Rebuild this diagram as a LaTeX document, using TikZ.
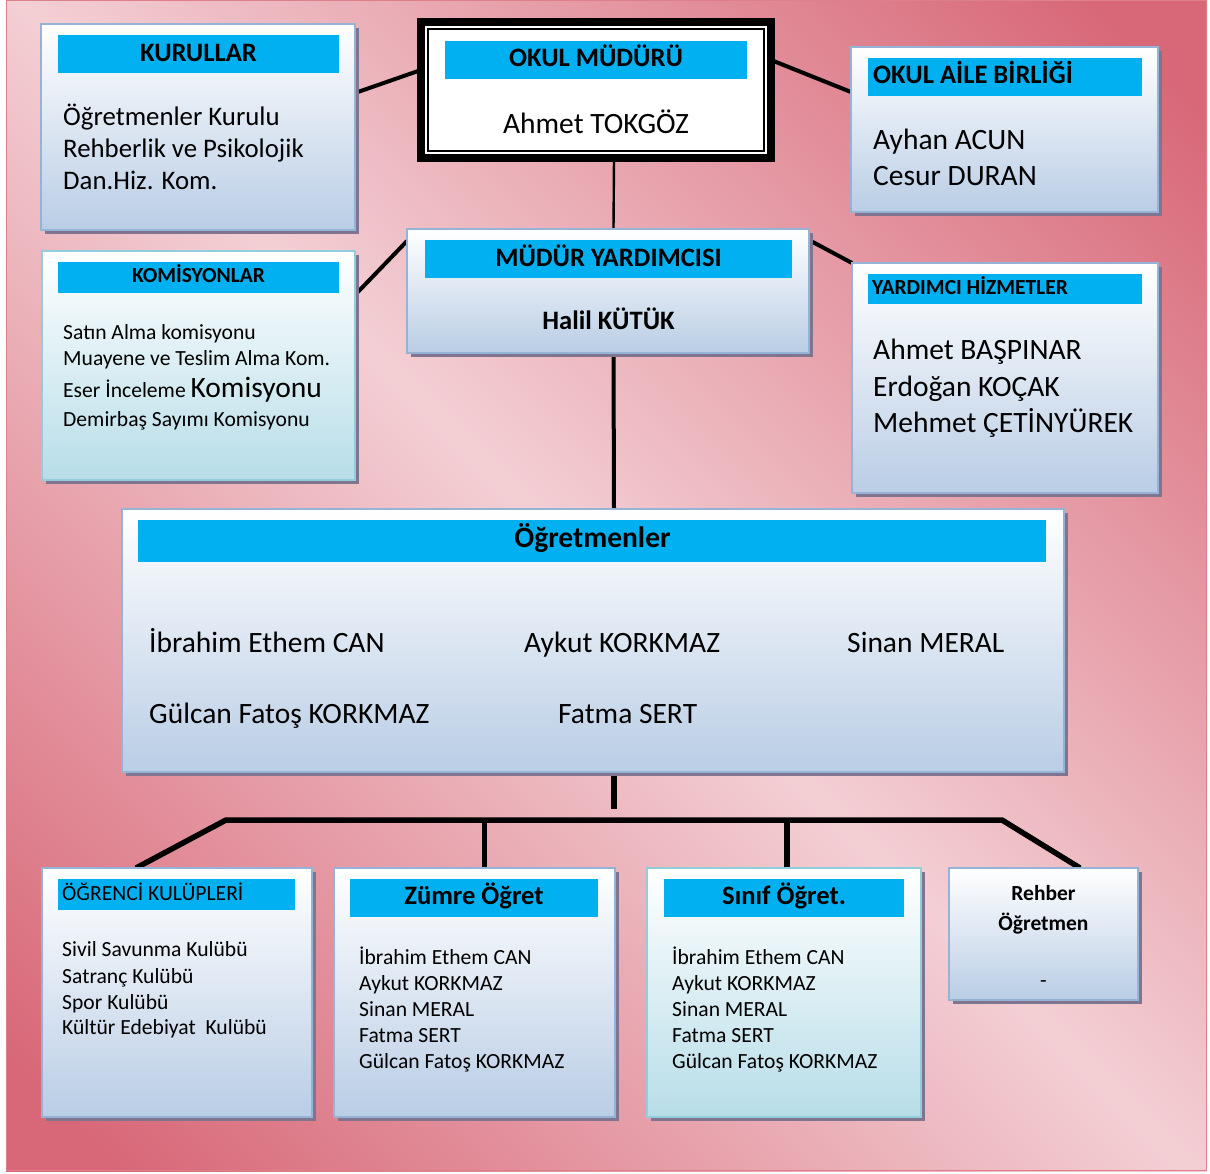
\documentclass[tikz,border=0pt]{standalone}
\usepackage{fontspec}
\setmainfont{Carlito}
\usetikzlibrary{shadows}
\definecolor{bgdark}{RGB}{216,104,120}
\definecolor{bglight}{RGB}{243,207,212}
\definecolor{framecol}{RGB}{222,128,140}
\definecolor{bordercol}{RGB}{149,179,215}
\definecolor{cyanborder}{RGB}{146,205,220}
\definecolor{bluebot}{RGB}{185,205,229}
\definecolor{cyanbot}{RGB}{183,221,232}
\definecolor{barcol}{RGB}{0,176,240}
\definecolor{shadowcol}{RGB}{128,116,142}
\pgfdeclarehorizontalshading{bgshade}{100bp}{color(0bp)=(bgdark); color(18bp)=(bgdark); color(50bp)=(bglight); color(82bp)=(bgdark); color(100bp)=(bgdark)}
\pgfdeclarelayer{back}
\pgfdeclarelayer{links}
\pgfsetlayers{back,links,main}
\newcommand\fsz[1]{\fontsize{#1}{#1}\selectfont}
\begin{document}
\begin{tikzpicture}[x=1pt,y=-1pt,
  box/.style={draw=bordercol, line width=2.5pt, top color=white, bottom color=bluebot,
    drop shadow={shadow xshift=4pt, shadow yshift=-4pt, fill=shadowcol, opacity=1},
    anchor=north west, inner sep=0pt, outer sep=0pt},
  cbox/.style={box, draw=cyanborder, bottom color=cyanbot},
  bar/.style={fill=barcol, anchor=north west, inner sep=0pt, outer sep=0pt},
  txt/.style={anchor=base west, inner sep=0pt},
  ctxt/.style={anchor=base, inner sep=0pt},
  big/.style={font=\fsz{29.5}},
  mid/.style={font=\fsz{26.8}},
  ttl/.style={font=\fsz{26.6}\bfseries},
  sttl/.style={font=\fsz{21.5}\bfseries},
  sm/.style={font=\fsz{21.6}},
  link/.style={line width=4pt},
  thin link/.style={line width=2.4pt},
  tree/.style={line width=5.5pt}
]
\useasboundingbox (0,0) rectangle (1210,1173);
\begin{pgfonlayer}{back}
\fill[white] (0,0) rectangle (1210,1173);
\path[shading=bgshade, shading angle=45] (6,0) rectangle (1207,1171);
\draw[framecol, line width=1.2pt] (6.6,0.6) rectangle (1206.4,1170.4);
\end{pgfonlayer}

% ---- boxes ----
\node[box, minimum width=314, minimum height=206] (kur) at (41,24) {};
\node[bar, minimum width=281, minimum height=38] (kurT) at (58,35) {};
\node[ctxt, ttl] (kurTt) at (198.5,61) {KURULLAR};
\node[txt, mid] (kur1) at (63,125) {Öğretmenler Kurulu};
\node[txt, mid] (kur2) at (63,157) {Rehberlik ve Psikolojik};
\node[txt, mid] (kur3) at (63,189) {Dan.Hiz. Kom.};

\node[draw=black, line width=8pt, fill=white, anchor=north west, inner sep=0pt, outer sep=0pt,
      minimum width=350, minimum height=136] (om) at (421,22) {};
\draw[line width=1.8pt] ([shift={(7pt,-7pt)}]om.north west) rectangle ([shift={(-7pt,7pt)}]om.south east);
\node[bar, minimum width=302, minimum height=38] (omT) at (445,41) {};
\node[ctxt, ttl] (omTt) at (596,66) {OKUL MÜDÜRÜ};
\node[ctxt, big] (om1) at (596,133) {Ahmet TOKGÖZ};

\node[box, minimum width=307, minimum height=165] (oab) at (851,47) {};
\node[bar, minimum width=274, minimum height=38] (oabT) at (868,58) {};
\node[txt, ttl] (oabTt) at (873,83) {OKUL AİLE BİRLİĞİ};
\node[txt, big] (oab1) at (873,149) {Ayhan ACUN};
\node[txt, big] (oab2) at (873,185) {Cesur DURAN};

\node[cbox, minimum width=313, minimum height=229] (kom) at (42,251) {};
\node[bar, minimum width=281, minimum height=31] (komT) at (58,262) {};
\node[ctxt, sttl] (komTt) at (198.5,282) {KOMİSYONLAR};
\node[txt, sm] (kom1) at (63,339) {Satın Alma komisyonu};
\node[txt, sm] (kom2) at (63,365) {Muayene ve Teslim Alma Kom.};
\node[txt, sm] (kom3) at (63,397) {Eser İnceleme {\fsz{29.5}Komisyonu}};
\node[txt, sm] (kom4) at (63,426) {Demirbaş Sayımı Komisyonu};

\node[box, minimum width=402, minimum height=124] (my) at (407,229) {};
\node[bar, minimum width=367, minimum height=38] (myT) at (425,240) {};
\node[ctxt, ttl] (myTt) at (608.5,266) {MÜDÜR YARDIMCISI};
\node[ctxt, ttl] (my1) at (608.5,329) {Halil KÜTÜK};

\node[box, minimum width=306, minimum height=230] (yh) at (852,263) {};
\node[bar, minimum width=274, minimum height=30] (yhT) at (868,274) {};
\node[txt, sttl] (yhTt) at (872,294) {YARDIMCI HİZMETLER};
\node[txt, big] (yh1) at (873,359) {Ahmet BAŞPINAR};
\node[txt, big] (yh2) at (873,396) {Erdoğan KOÇAK};
\node[txt, big] (yh3) at (873,432) {Mehmet ÇETİNYÜREK};

\node[box, minimum width=942, minimum height=263] (ogr) at (122,509) {};
\node[bar, minimum width=908, minimum height=42] (ogrT) at (138,520) {};
\node[ctxt, font=\fsz{29.5}\bfseries] (ogrTt) at (592.5,547) {Öğretmenler};
\node[txt, big] (ogr1) at (149,652) {İbrahim Ethem CAN};
\node[txt, big] (ogr2) at (524,652) {Aykut KORKMAZ};
\node[txt, big] (ogr3) at (847,652) {Sinan MERAL};
\node[txt, big] (ogr4) at (149,723) {Gülcan Fatoş KORKMAZ};
\node[txt, big] (ogr5) at (558,723) {Fatma SERT};

\node[box, minimum width=270, minimum height=249] (ok) at (42,868) {};
\node[bar, minimum width=237, minimum height=31] (okT) at (58,879) {};
\node[txt, sm] (okTt) at (62,900) {ÖĞRENCİ KULÜPLERİ};
\node[txt, sm] (ok1) at (62,956) {Sivil Savunma Kulübü};
\node[txt, sm] (ok2) at (62,983) {Satranç Kulübü};
\node[txt, sm] (ok3) at (62,1009) {Spor Kulübü};
\node[txt, sm] (ok4) at (62,1034) {Kültür Edebiyat\ \ Kulübü};

\node[box, minimum width=281, minimum height=249] (zum) at (334,868) {};
\node[bar, minimum width=248, minimum height=38] (zumT) at (350,879) {};
\node[ctxt, ttl] (zumTt) at (474,904) {Zümre Öğret};
\node[txt, sm] (zum1) at (359,964) {İbrahim Ethem CAN};
\node[txt, sm] (zum2) at (359,990) {Aykut KORKMAZ};
\node[txt, sm] (zum3) at (359,1016) {Sinan MERAL};
\node[txt, sm] (zum4) at (359,1042) {Fatma SERT};
\node[txt, sm] (zum5) at (359,1068) {Gülcan Fatoş KORKMAZ};

\node[cbox, minimum width=274, minimum height=249] (sin) at (647,868) {};
\node[bar, minimum width=240, minimum height=38] (sinT) at (664,879) {};
\node[ctxt, ttl] (sinTt) at (784,904) {Sınıf Öğret.};
\node[txt, sm] (sin1) at (672,964) {İbrahim Ethem CAN};
\node[txt, sm] (sin2) at (672,990) {Aykut KORKMAZ};
\node[txt, sm] (sin3) at (672,1016) {Sinan MERAL};
\node[txt, sm] (sin4) at (672,1042) {Fatma SERT};
\node[txt, sm] (sin5) at (672,1068) {Gülcan Fatoş KORKMAZ};

\node[box, minimum width=189, minimum height=132] (reh) at (949,868) {};
\node[ctxt, sttl] (reh1) at (1043.5,900) {Rehber};
\node[ctxt, sttl] (reh2) at (1043.5,930) {Öğretmen};
\node[ctxt, sm] (reh3) at (1043.5,987) {-};

% ---- connectors ----
\coordinate (stub) at (614,809);
\coordinate (hl) at (226,820);
\coordinate (hr) at (1002,820);
\coordinate (zt) at ([xshift=10pt]zum.north);
\coordinate (st) at ([xshift=3pt]sin.north);
\begin{pgfonlayer}{links}
\draw[link] ([yshift=-69pt]kur.north east) -- ([yshift=-48pt]om.north west);
\draw[link] ([yshift=-38pt]om.north east) -- ([yshift=-45pt]oab.north west);
\draw[thin link] ([xshift=18pt]om.south) -- ([xshift=5.5pt]my.north);
\draw[link] ([yshift=-44pt]kom.north east) -- ([yshift=-12pt]my.north west);
\draw[link] ([yshift=-11pt]my.north east) -- (yh.north west);
\draw[link] ([xshift=5.5pt]my.south) -- ([xshift=21pt]ogr.north);
\draw[tree] ([xshift=21pt]ogr.south) -- (stub);
\draw[tree] ([xshift=-41pt]ok.north) -- (hl) -- (hr) -- ([xshift=36.5pt]reh.north);
\draw[tree] (zt) -- (zt |- hl);
\draw[tree] (st) -- (st |- hl);
\end{pgfonlayer}
\end{tikzpicture}
\end{document}
